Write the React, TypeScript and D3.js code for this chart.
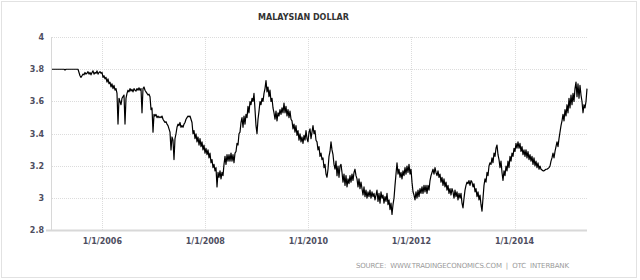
import React from "react";
import * as d3 from "d3";

const title = "MALAYSIAN DOLLAR";
const source = "SOURCE:  WWW.TRADINGECONOMICS.COM  |  OTC  INTERBANK";
const startDate = new Date(2005, 0, 9);
const endDate = new Date(2015, 4, 30);
const yTicks = [2.8, 3, 3.2, 3.4, 3.6, 3.8, 4];
const xTickYears = [2006, 2008, 2010, 2012, 2014];
const xTickLabels = ["1/1/2006", "1/1/2008", "1/1/2010", "1/1/2012", "1/1/2014"];

// weekly-ish USD/MYR readings, Jan 2005 .. May 2015
const values = [
  3.80,3.80,3.80,3.80,3.80,3.80,3.80,3.80,3.80,3.80,
  3.80,3.80,3.80,3.795,3.80,3.80,3.80,3.80,3.80,3.80,
  3.80,3.80,3.80,3.80,3.80,3.80,3.80,3.78,3.76,3.75,
  3.76,3.77,3.765,3.78,3.77,3.775,3.785,3.77,3.78,3.765,
  3.78,3.79,3.77,3.78,3.775,3.79,3.77,3.78,3.785,3.775,
  3.78,3.75,3.76,3.74,3.75,3.72,3.74,3.71,3.72,3.69,
  3.71,3.68,3.70,3.67,3.68,3.65,3.46,3.62,3.60,3.58,
  3.62,3.63,3.64,3.46,3.62,3.65,3.67,3.66,3.68,3.665,
  3.675,3.66,3.68,3.67,3.665,3.68,3.67,3.685,3.67,3.68,
  3.53,3.68,3.69,3.67,3.66,3.65,3.64,3.645,3.63,3.55,
  3.56,3.41,3.52,3.51,3.52,3.50,3.51,3.50,3.505,3.50,
  3.51,3.49,3.48,3.47,3.475,3.46,3.45,3.43,3.41,3.30,
  3.38,3.36,3.24,3.37,3.40,3.44,3.46,3.45,3.47,3.44,
  3.45,3.44,3.46,3.47,3.49,3.50,3.51,3.505,3.51,3.49,
  3.47,3.40,3.42,3.37,3.40,3.35,3.38,3.33,3.37,3.32,
  3.35,3.30,3.33,3.28,3.31,3.27,3.30,3.25,3.28,3.22,
  3.24,3.19,3.21,3.17,3.19,3.07,3.16,3.13,3.17,3.12,
  3.16,3.14,3.21,3.26,3.21,3.27,3.23,3.27,3.23,3.28,
  3.23,3.27,3.22,3.28,3.29,3.34,3.33,3.40,3.41,3.47,
  3.50,3.44,3.51,3.46,3.52,3.50,3.57,3.53,3.60,3.58,
  3.62,3.60,3.65,3.55,3.45,3.40,3.49,3.54,3.60,3.58,
  3.62,3.60,3.65,3.68,3.73,3.66,3.69,3.63,3.67,3.60,
  3.62,3.56,3.53,3.49,3.54,3.48,3.53,3.51,3.55,3.52,
  3.56,3.53,3.59,3.53,3.57,3.51,3.55,3.50,3.54,3.49,
  3.48,3.43,3.46,3.41,3.45,3.39,3.42,3.36,3.40,3.35,
  3.38,3.34,3.39,3.36,3.42,3.37,3.35,3.41,3.43,3.37,
  3.41,3.45,3.40,3.42,3.36,3.35,3.30,3.32,3.26,3.28,
  3.24,3.25,3.19,3.21,3.15,3.13,3.18,3.26,3.29,3.35,
  3.30,3.27,3.21,3.18,3.23,3.14,3.20,3.13,3.20,3.21,
  3.16,3.10,3.15,3.08,3.14,3.07,3.12,3.09,3.14,3.10,
  3.15,3.11,3.16,3.18,3.14,3.12,3.07,3.12,3.06,3.10,
  3.06,3.02,3.07,3.01,3.05,3.00,3.04,3.01,3.05,3.00,
  3.04,3.01,3.03,2.99,3.02,3.05,2.98,3.03,2.97,3.04,
  3.00,3.02,2.97,3.01,2.98,3.03,2.96,2.99,2.93,2.97,
  2.90,2.96,3.00,3.08,3.15,3.22,3.15,3.18,3.13,3.16,
  3.12,3.17,3.14,3.19,3.15,3.20,3.16,3.21,3.15,3.18,
  3.10,3.04,3.02,2.99,3.04,3.00,3.05,3.01,3.06,3.03,
  3.07,3.03,3.08,3.04,3.08,3.03,3.08,3.05,3.11,3.14,
  3.16,3.18,3.15,3.19,3.16,3.14,3.17,3.13,3.15,3.10,
  3.13,3.08,3.12,3.07,3.10,3.05,3.08,3.03,3.06,3.02,
  3.06,3.04,3.00,3.05,3.01,3.04,2.99,3.03,3.00,3.03,
  2.97,2.94,3.00,3.05,3.08,3.10,3.09,3.11,3.08,3.11,
  3.10,3.07,3.09,3.04,3.06,3.01,3.04,2.99,3.02,2.96,
  2.92,3.00,3.08,3.12,3.10,3.16,3.14,3.20,3.22,3.21,
  3.25,3.22,3.28,3.26,3.31,3.33,3.27,3.24,3.19,3.23,
  3.16,3.11,3.17,3.14,3.20,3.17,3.23,3.19,3.26,3.23,
  3.28,3.26,3.31,3.29,3.34,3.31,3.35,3.31,3.34,3.29,
  3.32,3.27,3.30,3.26,3.30,3.25,3.29,3.24,3.27,3.23,
  3.26,3.21,3.25,3.20,3.23,3.19,3.22,3.18,3.20,3.18,
  3.175,3.17,3.17,3.175,3.18,3.18,3.185,3.19,3.20,3.23,
  3.25,3.28,3.25,3.29,3.32,3.35,3.32,3.37,3.41,3.45,
  3.48,3.52,3.48,3.55,3.51,3.58,3.53,3.62,3.56,3.64,
  3.58,3.65,3.60,3.68,3.72,3.63,3.71,3.62,3.70,3.64,
  3.60,3.53,3.58,3.56,3.60,3.68,
];

const W = 640;
const H = 280;
const left = 52;
const right = 587;
const top = 37;
const bottom = 230.5;
const font = "'DejaVu Sans', Verdana, sans-serif";
const labelColor = "#4e4e60";

export default function App() {
  const x = d3.scaleTime().domain([startDate, endDate]).range([left, right]);
  const y = d3.scaleLinear().domain([2.8, 4]).range([bottom, top]);
  const timeAt = d3.scaleLinear().domain([0, values.length - 1]).range([startDate.getTime(), endDate.getTime()]);
  const pts: [number, number][] = values.map((v, i) => [x(new Date(timeAt(i))), y(v)]);
  const line = d3.line<[number, number]>().x((d) => d[0]).y((d) => d[1]);
  const tickX = xTickYears.map((yr) => x(new Date(yr, 0, 1)));

  return (
    <div style={{ position: "absolute", left: 0, top: 0 }}>
      <svg width={W} height={H} style={{ display: "block", background: "#fff" }}>
        <rect x={1.5} y={1.5} width={635} height={276} fill="#fff" stroke="#e2e2e2" />
        <text x={303.5} y={20} textAnchor="middle" fontFamily={font} fontWeight="bold" fontSize={8} fill="#333">
          {title}
        </text>
        {yTicks.filter((t) => t > 2.8).map((t) => (
          <line key={"hg" + t} x1={left} x2={right} y1={Math.round(y(t)) + 0.5} y2={Math.round(y(t)) + 0.5}
            stroke="#dcdcdc" strokeDasharray="1,1" />
        ))}
        {tickX.map((tx, i) => (
          <line key={"vg" + i} x1={Math.round(tx) + 0.5} x2={Math.round(tx) + 0.5} y1={top} y2={bottom}
            stroke="#dcdcdc" strokeDasharray="1,1" />
        ))}
        <line x1={left - 0.5} x2={left - 0.5} y1={top} y2={bottom} stroke="#d8d8d8" />
        <line x1={46} x2={right} y1={bottom} y2={bottom} stroke="#d8d8d8" strokeWidth={2} />
        {yTicks.map((t) => (
          <text key={"yl" + t} x={44} y={y(t)} dy="0.35em" textAnchor="end" fontFamily={font}
            fontWeight="bold" fontSize={8} fill={labelColor}>
            {d3.format("")(t)}
          </text>
        ))}
        {tickX.map((tx, i) => (
          <text key={"xl" + i} x={tx} y={244} textAnchor="middle" fontFamily={font}
            fontWeight="bold" fontSize={8} fill={labelColor}>
            {xTickLabels[i]}
          </text>
        ))}
        <path d={line(pts) || ""} fill="none" stroke="#000" strokeWidth={1.2} strokeLinejoin="round" />
        <text x={356} y={268} fontFamily={font} fontSize={7} fill="#9a9a9a" textLength={213}
          lengthAdjust="spacing" style={{ whiteSpace: "pre" }}>
          {source}
        </text>
      </svg>
    </div>
  );
}
